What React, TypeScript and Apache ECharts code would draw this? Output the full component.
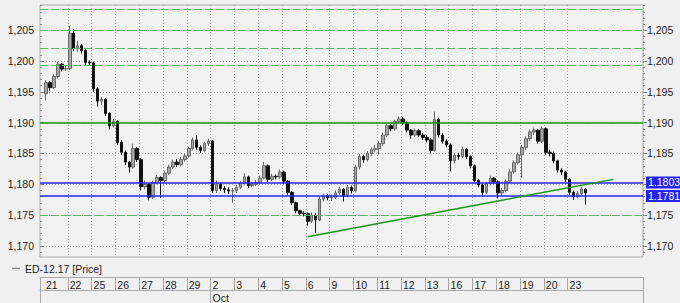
import React, { useEffect, useRef } from 'react';
import * as echarts from 'echarts';

// ---- data ----
const seriesName = 'ED-12.17 [Price]';
const dayLabels = ['21', '22', '25', '26', '27', '28', '29', '2', '3', '4', '5', '6', '9', '10', '11', '12', '13', '16', '17', '18', '19', '20', '23'];
const monthLabels = ['Oct'];
const monthDayIndex = [7];
const barsPerDay = 6;
const leadSlots = 1;
const totalSlots = 152;

const firstOpen = 1.1947;
const closes = [
  1.1965, 1.1957, 1.1975, 1.1995, 1.1987, 1.1988,
  1.2045, 1.2020, 1.2025, 1.2017, 1.1998, 1.1997,
  1.1955, 1.1935, 1.1938, 1.1915, 1.1895, 1.1902,
  1.1868, 1.1852, 1.1836, 1.1828, 1.1858, 1.1840,
  1.1796, 1.1800, 1.1779, 1.1803, 1.1811, 1.1806,
  1.1818, 1.1828, 1.1836, 1.1832, 1.1840, 1.1846,
  1.1858, 1.1872, 1.1860, 1.1855, 1.1866, 1.1870,
  1.1790, 1.1800, 1.1793, 1.1791, 1.1789, 1.1790,
  1.1795, 1.1801, 1.1812, 1.1798, 1.1800, 1.1803,
  1.1810, 1.1830, 1.1808, 1.1813, 1.1812, 1.1820,
  1.1805, 1.1787, 1.1770, 1.1757, 1.1753, 1.1752,
  1.1740, 1.1750, 1.1742, 1.1776, 1.1781, 1.1778,
  1.1779, 1.1786, 1.1792, 1.1781, 1.1795, 1.1790,
  1.1828, 1.1845, 1.1840, 1.1850, 1.1856, 1.1858,
  1.1866, 1.1880, 1.1895, 1.1890, 1.1902, 1.1906,
  1.1900, 1.1888, 1.1880, 1.1887, 1.1880, 1.1876,
  1.1872, 1.1855, 1.1905, 1.1880, 1.1870, 1.1864,
  1.1838, 1.1847, 1.1845, 1.1857, 1.1845, 1.1830,
  1.1806, 1.1799, 1.1787, 1.1801, 1.1810, 1.1804,
  1.1786, 1.1790, 1.1805, 1.1820, 1.1835, 1.1848,
  1.1860, 1.1874, 1.1885, 1.1888, 1.1870, 1.1890,
  1.1852, 1.1850, 1.1838, 1.1823, 1.1820, 1.1808,
  1.1787, 1.1780, 1.1785, 1.1792, 1.1786,
];
const highs = [
  1.1969, 1.1968, 1.1979, 1.1999, 1.1997, 1.1992,
  1.2057, 1.2052, 1.2033, 1.2028, 1.2019, 1.2001,
  1.1999, 1.1958, 1.1942, 1.1940, 1.1917, 1.1906,
  1.1904, 1.1872, 1.1855, 1.1838, 1.1866, 1.1860,
  1.1842, 1.1806, 1.1802, 1.1806, 1.1815, 1.1813,
  1.1822, 1.1832, 1.1840, 1.1841, 1.1844, 1.1850,
  1.1861, 1.1876, 1.1880, 1.1863, 1.1869, 1.1874,
  1.1872, 1.1806, 1.1803, 1.1797, 1.1795, 1.1794,
  1.1799, 1.1805, 1.1818, 1.1814, 1.1804, 1.1807,
  1.1814, 1.1836, 1.1832, 1.1817, 1.1816, 1.1824,
  1.1822, 1.1807, 1.1789, 1.1772, 1.1759, 1.1756,
  1.1754, 1.1754, 1.1753, 1.1779, 1.1785, 1.1784,
  1.1783, 1.1790, 1.1796, 1.1794, 1.1799, 1.1798,
  1.1832, 1.1849, 1.1848, 1.1854, 1.1860, 1.1864,
  1.1870, 1.1884, 1.1899, 1.1898, 1.1905, 1.1910,
  1.1909, 1.1902, 1.1890, 1.1891, 1.1890, 1.1883,
  1.1880, 1.1875, 1.1918, 1.1908, 1.1883, 1.1873,
  1.1866, 1.1851, 1.1851, 1.1861, 1.1859, 1.1847,
  1.1832, 1.1809, 1.1801, 1.1804, 1.1814, 1.1812,
  1.1806, 1.1794, 1.1808, 1.1824, 1.1839, 1.1852,
  1.1864, 1.1878, 1.1889, 1.1892, 1.1890, 1.1894,
  1.1892, 1.1856, 1.1853, 1.1840, 1.1826, 1.1822,
  1.1810, 1.1790, 1.1789, 1.1796, 1.1794,
];
const lows = [
  1.1936, 1.1952, 1.1954, 1.1972, 1.1983, 1.1984,
  1.1985, 1.2016, 1.2015, 1.2012, 1.1994, 1.1993,
  1.1950, 1.1926, 1.1929, 1.1911, 1.1889, 1.1892,
  1.1864, 1.1848, 1.1831, 1.1819, 1.1825, 1.1836,
  1.1790, 1.1792, 1.1774, 1.1776, 1.1800, 1.1778,
  1.1803, 1.1815, 1.1825, 1.1828, 1.1829, 1.1837,
  1.1843, 1.1855, 1.1856, 1.1851, 1.1852, 1.1862,
  1.1786, 1.1786, 1.1789, 1.1786, 1.1784, 1.1770,
  1.1786, 1.1792, 1.1798, 1.1794, 1.1795, 1.1797,
  1.1800, 1.1808, 1.1804, 1.1805, 1.1808, 1.1809,
  1.1801, 1.1783, 1.1766, 1.1753, 1.1750, 1.1748,
  1.1733, 1.1737, 1.1721, 1.1740, 1.1772, 1.1774,
  1.1773, 1.1776, 1.1783, 1.1772, 1.1779, 1.1785,
  1.1787, 1.1824, 1.1835, 1.1837, 1.1846, 1.1852,
  1.1848, 1.1862, 1.1877, 1.1886, 1.1887, 1.1899,
  1.1896, 1.1884, 1.1874, 1.1877, 1.1877, 1.1872,
  1.1868, 1.1850, 1.1853, 1.1876, 1.1866, 1.1860,
  1.1821, 1.1834, 1.1840, 1.1842, 1.1841, 1.1826,
  1.1802, 1.1795, 1.1780, 1.1784, 1.1798, 1.1800,
  1.1777, 1.1781, 1.1787, 1.1802, 1.1817, 1.1832,
  1.1811, 1.1856, 1.1870, 1.1880, 1.1866, 1.1867,
  1.1848, 1.1845, 1.1834, 1.1819, 1.1815, 1.1804,
  1.1783, 1.1775, 1.1777, 1.1782, 1.1767,
];

const yMin = 1.1682;
const yMax = 1.2091;
const yTicks = [1.17, 1.175, 1.18, 1.185, 1.19, 1.195, 1.2, 1.205];
// right-hand labels: 1,180 is hidden behind the price box in the reference
const yTicksRightLabels = [1.17, 1.175, 1.185, 1.19, 1.195, 1.2, 1.205];
const dashedLevels = [1.2084, 1.205, 1.2021, 1.1994, 1.175];
const solidLevels = [1.19];
const priceLevels = [1.1803, 1.1781];
const trendSlots = [67, 144];
const trendValues = [1.1715, 1.1808];

// ---- derived ----
const cats = Array.from({ length: totalSlots }, (_, i) => 's' + i);
const candleData = closes.map((c, i) => [
  cats[leadSlots + i],
  i === 0 ? firstOpen : closes[i - 1],
  c,
  lows[i],
  highs[i],
]);
const dayStart = dayLabels.map((_, k) => leadSlots + k * barsPerDay);
const gridSet = new Set(dayStart.slice(1));
const stripTickSet = new Set([0, ...dayStart.slice(1)]);
const labelSet = new Set(dayStart);
const labelByCat: Record<string, string> = {};
dayStart.forEach((s, k) => { labelByCat[cats[s]] = dayLabels[k]; });
const monthSlots = monthDayIndex.map((d) => dayStart[d]);
const monthTickSet = new Set([0, ...monthSlots]);
const monthLabelSet = new Set(monthSlots);
const monthByCat: Record<string, string> = {};
monthSlots.forEach((s, k) => { monthByCat[cats[s]] = monthLabels[k]; });
const minorTicks: number[] = [];
for (let v = 1169; v <= 1209; v++) minorTicks.push(v / 1000);

const FONT = '"Liberation Sans", Arial, sans-serif';
const TXT = '#1e1e1e';
const STRIP = '#a8a8a8';
const FS = 10.5;
const fmt = (v: number) => v.toFixed(3).replace('.', ',');

const dashedStyle = { color: '#5cb85c', width: 1.2, type: [8, 3] };
const solidStyle = { color: '#119a11', width: 1.5, type: 'solid' };
const blueStyle = { color: '#2424f2', width: 1.6, type: 'solid' };

const markData: any[] = [
  ...dashedLevels.map((v) => ({ yAxis: v, lineStyle: dashedStyle, label: { show: false } })),
  ...solidLevels.map((v) => ({ yAxis: v, lineStyle: solidStyle, label: { show: false } })),
  ...priceLevels.map((v) => ({
    yAxis: v,
    lineStyle: blueStyle,
    label: {
      show: true,
      position: 'end',
      distance: 3,
      formatter: v.toFixed(4),
      color: '#ffffff',
      backgroundColor: '#2424f2',
      padding: [1, 2, 0, 2],
      fontSize: FS,
      fontFamily: FONT,
      lineHeight: 11,
    },
  })),
  [
    { coord: [cats[trendSlots[0]], trendValues[0]], lineStyle: { color: '#1a941a', width: 1.5, type: 'solid' }, label: { show: false } },
    { coord: [cats[trendSlots[1]], trendValues[1]] },
  ],
];

const option: any = {
  animation: false,
  backgroundColor: '#f0f0f0',
  textStyle: { fontFamily: FONT },
  grid: {
    left: 40, right: 37, top: 5, bottom: 46,
    show: true, borderColor: '#a9a9a9', borderWidth: 1, backgroundColor: '#f1f1f1',
    containLabel: false, outerBoundsMode: 'none',
  },
  legend: {
    left: 12, top: 263, padding: 0, itemWidth: 8, itemHeight: 1.5, selectedMode: false,
    textStyle: { fontSize: FS, color: TXT, fontFamily: FONT },
    data: [{ name: seriesName, icon: 'rect', itemStyle: { color: '#8c8c8c', borderWidth: 0 } }],
  },
  xAxis: [
    {
      type: 'category', data: cats, boundaryGap: true,
      axisLine: { show: false }, axisTick: { show: false }, axisLabel: { show: false },
      splitLine: { show: true, interval: (i: number) => gridSet.has(i), lineStyle: { color: '#a2a2a2', type: [1, 2], width: 1 } },
    },
    {
      type: 'category', data: cats, boundaryGap: true, position: 'bottom', offset: 20,
      axisLine: { show: true, lineStyle: { color: STRIP, width: 1 } },
      axisTick: { show: true, length: 13, interval: (i: number) => stripTickSet.has(i), lineStyle: { color: STRIP } },
      axisLabel: {
        show: true, interval: (i: number) => labelSet.has(i), formatter: (v: string) => labelByCat[v] ?? '',
        align: 'left', margin: 2, fontSize: FS, color: TXT, fontFamily: FONT,
      },
      splitLine: { show: false },
    },
    {
      type: 'category', data: cats, boundaryGap: true, position: 'bottom', offset: 33,
      axisLine: { show: true, lineStyle: { color: STRIP, width: 1 } },
      axisTick: { show: true, length: 13, interval: (i: number) => monthTickSet.has(i), lineStyle: { color: STRIP } },
      axisLabel: {
        show: true, interval: (i: number) => monthLabelSet.has(i), formatter: (v: string) => monthByCat[v] ?? '',
        align: 'left', margin: 2, fontSize: FS, color: TXT, fontFamily: FONT,
      },
      splitLine: { show: false },
    },
  ],
  yAxis: [
    {
      type: 'value', position: 'left', min: yMin, max: yMax, scale: true,
      axisLine: { show: false },
      axisTick: { show: true, inside: true, length: 4, customValues: yTicks, lineStyle: { color: '#777' } },
      axisLabel: { show: true, customValues: yTicks, formatter: fmt, margin: 6, fontSize: FS, color: TXT, fontFamily: FONT },
      splitLine: { show: true, lineStyle: { color: '#a2a2a2', type: [1, 2], width: 1 } },
    },
    {
      type: 'value', position: 'right', min: yMin, max: yMax, scale: true,
      axisLine: { show: false },
      axisTick: { show: true, inside: false, length: 4, customValues: yTicks, lineStyle: { color: '#777' } },
      axisLabel: { show: true, customValues: yTicksRightLabels, formatter: fmt, margin: 4, fontSize: FS, color: TXT, fontFamily: FONT },
      splitLine: { show: false },
    },
    {
      type: 'value', position: 'left', min: yMin, max: yMax, scale: true,
      axisLine: { show: false },
      axisTick: { show: true, inside: true, length: 2, customValues: minorTicks, lineStyle: { color: '#888' } },
      axisLabel: { show: false, customValues: minorTicks },
      splitLine: { show: false },
    },
    {
      type: 'value', position: 'right', min: yMin, max: yMax, scale: true,
      axisLine: { show: false },
      axisTick: { show: true, inside: false, length: 2, customValues: minorTicks, lineStyle: { color: '#888' } },
      axisLabel: { show: false, customValues: minorTicks },
      splitLine: { show: false },
    },
  ],
  series: [
    {
      type: 'candlestick',
      name: seriesName,
      data: candleData,
      encode: { x: 0, y: [1, 2, 3, 4] },
      barWidth: 3,
      itemStyle: {
        color: '#a8a8a8', color0: '#111111',
        borderColor: '#666666', borderColor0: '#111111', borderWidth: 1,
      },
      markLine: {
        silent: true, animation: false, symbol: ['none', 'none'], precision: 4,
        label: { show: false },
        data: markData,
      },
    },
  ],
};

export default function App() {
  const ref = useRef<HTMLDivElement>(null);
  useEffect(() => {
    document.body.style.margin = '0';
    document.body.style.background = '#f0f0f0';
    const chart = echarts.init(ref.current!, null, { renderer: 'svg' });
    chart.setOption(option);
    return () => chart.dispose();
  }, []);
  return <div ref={ref} style={{ position: 'fixed', left: 0, top: 0, width: 680, height: 303 }} />;
}
